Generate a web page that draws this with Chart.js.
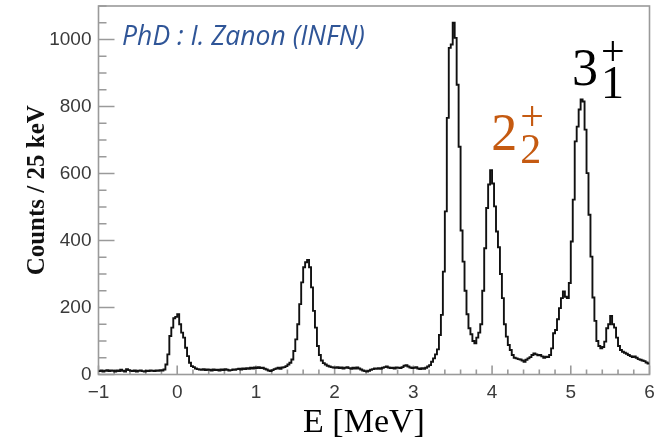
<!DOCTYPE html>
<html>
<head>
<meta charset="utf-8">
<title>Excitation energy spectrum</title>
<script src="https://cdn.jsdelivr.net/npm/chart.js@4.4.1/dist/chart.umd.min.js"></script>
<style>
  html, body { margin: 0; padding: 0; background: #fff; }
  canvas { display: block; }
</style>
</head>
<body>
<canvas id="spectrum" width="669" height="443"></canvas>
<script>
/* ---------- DATA ---------- */

// 25 keV bins from -1 MeV to 6 MeV
const binStart = -1.0;
const binWidth = 0.025;

// counts per bin (280 bins)
const counts = [
  10, 12, 9, 11, 13, 10, 12, 11, 9, 12,
  10, 14, 11, 9, 16, 13, 11, 10, 12, 9,
  11, 12, 10, 9, 11, 10, 12, 11, 10, 12,
  11, 13, 12, 15, 30, 60, 115, 140, 168, 172,
  180, 150, 125, 110, 80, 55, 35, 25, 22, 18,
  16, 15, 14, 16, 13, 15, 14, 12, 15, 13,
  14, 12, 15, 13, 16, 14, 12, 13, 15, 14,
  16, 17, 15, 18, 16, 19, 17, 20, 18, 21,
  19, 22, 19, 20, 17, 15, 12, 10, 13, 16,
  18, 20, 17, 21, 22, 25, 30, 35, 45, 70,
  105, 150, 210, 275, 320, 335, 342, 320, 260, 190,
  140, 85, 58, 42, 34, 30, 26, 24, 22, 21,
  20, 22, 19, 21, 18, 20, 22, 19, 17, 20,
  18, 21, 18, 15, 12, 10, 9, 11, 14, 16,
  18, 17, 19, 17, 20, 22, 24, 21, 19, 20,
  18, 21, 20, 19, 22, 26, 28, 24, 21, 19,
  20, 22, 18, 16, 19, 17, 20, 24, 28, 38,
  48, 60, 75, 118, 178, 307, 487, 766, 975, 985,
  1050, 1005, 865, 680, 430, 337, 250, 180, 138, 120,
  100, 93, 110, 125, 150, 250, 377, 497, 567, 610,
  570, 502, 427, 380, 300, 228, 150, 113, 88, 73,
  58, 50, 48, 46, 45, 42, 38, 44, 48, 52,
  58, 63, 60, 57, 58, 54, 50, 53, 52, 58,
  78, 123, 133, 165, 198, 228, 248, 232, 228, 273,
  397, 522, 696, 740, 791, 821, 815, 731, 601, 477,
  352, 230, 160, 100, 85, 78, 82, 98, 138, 150,
  175, 150, 140, 110, 85, 73, 68, 65, 62, 58,
  55, 52, 54, 50, 46, 44, 42, 40, 36, 33
];

const xTickValues = [-1, 0, 1, 2, 3, 4, 5, 6];
const yTickValues = [0, 200, 400, 600, 800, 1000];

// state labels: base digit, subscript, superscript, anchor E (MeV), anchor counts
const stateBase = ["2", "3"];
const stateSub = ["2", "1"];
const stateSup = ["+", "+"];
const stateE = [3.99, 5.015];
const stateCounts = [670, 864];
const stateColors = ["#c55a11", "#000000"];
const stateSubSize = [42, 46];

/* ---------- HISTOGRAM POINTS ---------- */

// one point per lower bin edge, plus the closing upper edge
const points = counts.map((c, i) => ({ x: binStart + i * binWidth, y: c }));
points.push({ x: binStart + counts.length * binWidth, y: counts[counts.length - 1] });

/* ---------- PLUGINS ---------- */

// frame with inward ticks
const frameTicks = {
  id: "frameTicks",
  beforeDatasetsDraw(chart) {
    const { ctx, chartArea: a, scales: { x, y } } = chart;
    ctx.save();
    ctx.strokeStyle = "#9a9a9a";
    ctx.lineWidth = 1.6;
    ctx.strokeRect(a.left, a.top, a.right - a.left, a.bottom - a.top);
    ctx.beginPath();
    for (let k = 0; k <= 35; k++) {
      const px = x.getPixelForValue(-1 + k * 0.2);
      const len = k % 5 === 0 ? 9 : 5;
      ctx.moveTo(px, a.bottom);
      ctx.lineTo(px, a.bottom - len);
    }
    for (let v = 0; v <= 1100; v += 50) {
      const py = y.getPixelForValue(v);
      const len = v % 200 === 0 ? 16 : 8;
      ctx.moveTo(a.left, py);
      ctx.lineTo(a.left + len, py);
    }
    ctx.stroke();
    ctx.restore();
  }
};

// credit line, state labels and x title
const annotations = {
  id: "annotations",
  afterDraw(chart) {
    const { ctx, chartArea: a, scales: { x, y } } = chart;
    ctx.save();
    ctx.textAlign = "left";
    ctx.textBaseline = "alphabetic";

    ctx.fillStyle = "#2f5597";
    ctx.font = 'italic 26.5px "Open Sans"';
    ctx.fillText("PhD : I. Zanon (INFN)", x.getPixelForValue(-0.70), y.getPixelForValue(984));

    stateBase.forEach((b, i) => {
      const px = x.getPixelForValue(stateE[i]);
      const py = y.getPixelForValue(stateCounts[i]);
      ctx.fillStyle = stateColors[i];
      ctx.font = '52px "Liberation Serif"';
      ctx.fillText(b, px, py);
      const sx = px + ctx.measureText(b).width + 3;
      ctx.font = '42px "Liberation Serif"';
      ctx.fillText(stateSup[i], sx, py - 20);
      ctx.font = stateSubSize[i] + 'px "Liberation Serif"';
      ctx.fillText(stateSub[i], sx, py + 13);
    });

    ctx.fillStyle = "#000";
    ctx.textAlign = "center";
    ctx.font = '34px "Liberation Serif"';
    ctx.fillText("E [MeV]", (a.left + a.right) / 2 - 10, 431.5);
    ctx.restore();
  }
};

/* ---------- CHART ---------- */

Chart.defaults.font.family = '"Liberation Sans", Arial, sans-serif';

new Chart(document.getElementById("spectrum").getContext("2d"), {
  type: "line",
  data: {
    datasets: [
      {
        data: points,
        stepped: true,
        borderColor: "#111",
        borderWidth: 1.9,
        pointRadius: 0,
        fill: false
      }
    ]
  },
  options: {
    responsive: false,
    animation: false,
    devicePixelRatio: 1,
    layout: { padding: { top: 6, right: 19.5, left: 0, bottom: 0 } },
    plugins: {
      legend: { display: false },
      tooltip: { enabled: false }
    },
    scales: {
      x: {
        type: "linear",
        min: -1,
        max: 6,
        grid: { display: false, drawTicks: false },
        border: { display: false },
        afterBuildTicks: s => { s.ticks = xTickValues.map(v => ({ value: v })); },
        afterFit: s => {
          s.height = 68.5;
          s.paddingLeft = 0;
          s.paddingRight = 0;
        },
        ticks: {
          padding: 7,
          color: "#3a3a3a",
          font: { size: 19 },
          maxRotation: 0,
          callback: v => (v < 0 ? "\u2212" + Math.abs(v) : String(v))
        }
      },
      y: {
        min: 0,
        max: 1100,
        grid: { display: false, drawTicks: false },
        border: { display: false },
        afterBuildTicks: s => { s.ticks = yTickValues.map(v => ({ value: v })); },
        afterFit: s => {
          s.width = 98.5;
          s.paddingTop = 0;
          s.paddingBottom = 0;
        },
        ticks: {
          padding: 7,
          color: "#3a3a3a",
          font: { size: 19 },
          callback: v => String(v)
        },
        title: {
          display: true,
          text: "Counts / 25 keV",
          color: "#111",
          font: { family: '"Liberation Serif", serif', size: 25, weight: "bold" },
          padding: { top: 23, bottom: 0 }
        }
      }
    }
  },
  plugins: [frameTicks, annotations]
});
</script>
</body>
</html>
